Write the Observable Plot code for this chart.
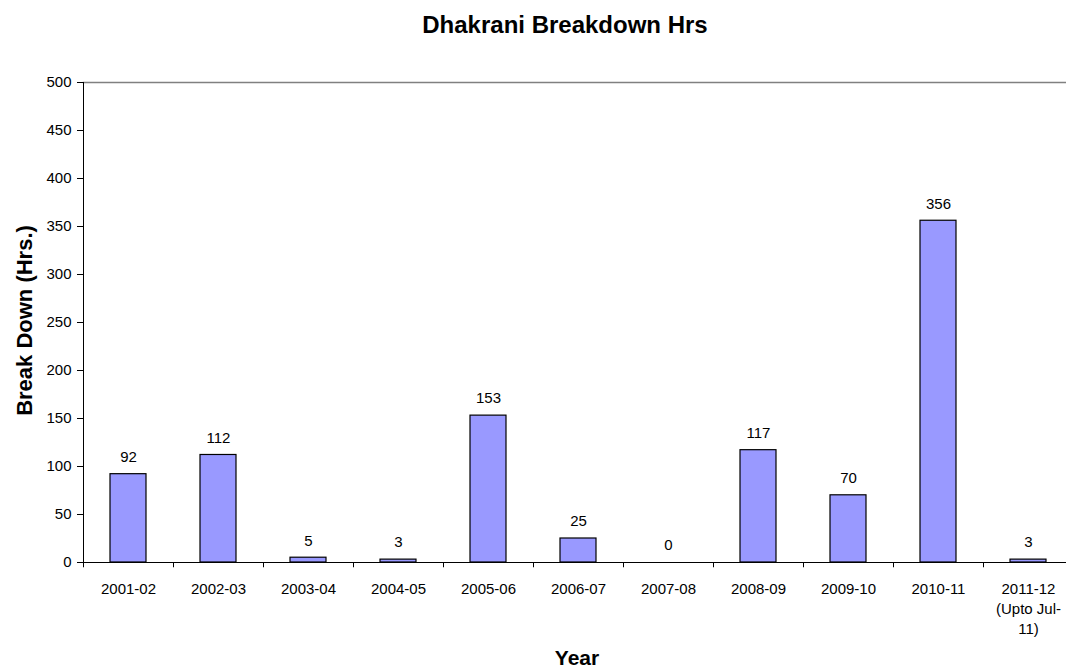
<!DOCTYPE html>
<html>
<head>
<meta charset="utf-8">
<script src="https://cdn.jsdelivr.net/npm/d3@7"></script>
<script src="https://cdn.jsdelivr.net/npm/@observablehq/plot@0.6"></script>
<style>
  html, body { margin: 0; padding: 0; background: #fff; overflow: hidden; }
  #wrap { position: relative; width: 1066px; height: 668px; overflow: hidden; }
  #title { position: absolute; left: 0; top: 0; width: 1130px; height: 50px;
           text-align: center; font: bold 24px "Liberation Sans", Arial, sans-serif; line-height: 50px; color: #000; }
  #chart { position: absolute; left: 0; top: 50px; }
</style>
</head>
<body>
<div id="wrap">
  <div id="title">Dhakrani Breakdown Hrs</div>
  <div id="chart"></div>
</div>
<script>
const years = ["2001-02","2002-03","2003-04","2004-05","2005-06","2006-07","2007-08","2008-09","2009-10","2010-11","2011-12"];
const hours = [92, 112, 5, 3, 153, 25, 0, 117, 70, 356, 3];
const tickLabels = ["2001-02","2002-03","2003-04","2004-05","2005-06","2006-07","2007-08","2008-09","2009-10","2010-11","2011-12\n(Upto Jul-\n11)"];
const yTicks = [0, 50, 100, 150, 200, 250, 300, 350, 400, 450, 500];
const yLabel = "Break Down (Hrs.)";
const xLabel = "Year";

const data = years.map((y, i) => ({year: y, value: hours[i]}));
const labelOf = new Map(years.map((y, i) => [y, tickLabels[i]]));

const font = '"Liberation Sans", Arial, sans-serif';

const chart = Plot.plot({
  width: 1066,
  height: 618,
  marginLeft: 83,
  marginRight: 0,
  marginTop: 32,
  marginBottom: 106,
  style: {fontFamily: font, fontSize: "15px", color: "#000", background: "#fff", overflow: "visible"},
  x: {domain: years, range: [83, 1073], paddingInner: 0.6, paddingOuter: 0.3, align: 0.5},
  y: {domain: [0, 500]},
  marks: [
    Plot.frame({anchor: "top", stroke: "#808080", strokeWidth: 1.5}),
    Plot.barY(data, {x: "year", y: "value", fill: "#9999FF", stroke: "#000", strokeWidth: 1.2}),
    Plot.text(data, {x: "year", y: "value", text: d => String(d.value), dy: -17, lineAnchor: "middle", fill: "#000"}),
    Plot.ruleY([0], {stroke: "#000", strokeWidth: 1}),
    Plot.frame({anchor: "left", stroke: "#000", strokeWidth: 1}),
    Plot.ruleX(years, {x: d => d, dx: -45, y1: 0, y2: -5.5, stroke: "#000", strokeWidth: 1}),
    Plot.axisY({ticks: yTicks, tickSize: 6, tickPadding: 6, label: null, fill: "#000", stroke: "#000"}),
    Plot.axisX({tickSize: 0, tickPadding: 17, label: null, lineHeight: 1.35, tickFormat: d => labelOf.get(d), fill: "#000"}),
    Plot.text([yLabel], {text: d => d, frameAnchor: "left", dx: -59, dy: -2, rotate: -90, textAnchor: "middle", lineAnchor: "middle", fontWeight: "bold", fontSize: 22, fill: "#000"}),
    Plot.text([xLabel], {text: d => d, frameAnchor: "bottom", dy: 96, dx: 2, textAnchor: "middle", lineAnchor: "middle", fontWeight: "bold", fontSize: 21, fill: "#000"})
  ]
});
document.getElementById("chart").appendChild(chart);
</script>
</body>
</html>
